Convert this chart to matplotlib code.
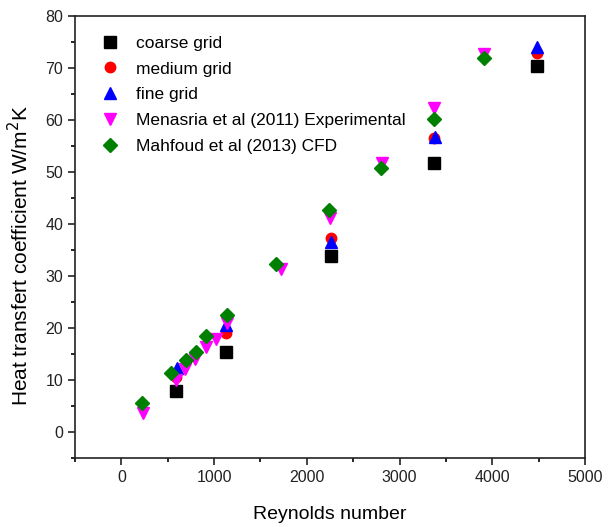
import matplotlib
matplotlib.use("Agg")
import matplotlib.pyplot as plt
from matplotlib.ticker import MultipleLocator

plt.rcParams['font.family'] = ['Liberation Sans', 'DejaVu Sans']

# Data
coarse_re = [593, 1132, 2265, 3372, 4487]
coarse_h = [7.9, 15.4, 33.9, 51.8, 70.3]

medium_re = [593, 1132, 2265, 3376, 4487]
medium_h = [10.5, 19.0, 37.4, 56.5, 72.9]

fine_re = [601, 1125, 2265, 3380, 4487]
fine_h = [12.4, 20.6, 36.6, 56.8, 74.0]

menasria_re = [233, 586, 690, 791, 909, 1025, 1143, 1726, 2247, 2816, 3369, 3912]
menasria_h = [3.7, 10.0, 12.2, 14.0, 16.4, 17.8, 20.9, 31.3, 41.1, 51.8, 62.4, 72.7]

mahfoud_re = [226, 532, 701, 809, 917, 1143, 1672, 2236, 2805, 3376, 3909]
mahfoud_h = [5.6, 11.3, 13.8, 15.4, 18.5, 22.5, 32.4, 42.7, 50.7, 60.2, 71.9]

labels = ["coarse grid", "medium grid", "fine grid",
          "Menasria et al (2011) Experimental", "Mahfoud et al (2013) CFD"]

fig = plt.figure(figsize=(6.12, 5.27), dpi=100)
ax = fig.add_axes([75/612, 1-458/527, 510/612, 442/527])

ax.plot(coarse_re, coarse_h, ls='none', marker='s', ms=8.5, color='black', label=labels[0])
ax.plot(medium_re, medium_h, ls='none', marker='o', ms=7.5, color='red', label=labels[1])
ax.plot(fine_re, fine_h, ls='none', marker='^', ms=8.5, color='blue', label=labels[2])
ax.plot(menasria_re, menasria_h, ls='none', marker='v', ms=8.5, color='magenta', label=labels[3])
ax.plot(mahfoud_re, mahfoud_h, ls='none', marker='D', ms=7, color='green', label=labels[4])

ax.set_xlim(-500, 5000)
ax.set_ylim(-5, 80)
ax.xaxis.set_major_locator(MultipleLocator(1000))
ax.xaxis.set_minor_locator(MultipleLocator(500))
ax.yaxis.set_major_locator(MultipleLocator(10))
ax.yaxis.set_minor_locator(MultipleLocator(5))
ax.tick_params(which='major', direction='out', length=5, width=1.2, labelsize=11.5, colors='#222222')
ax.tick_params(which='minor', direction='out', length=3, width=1.2)
for s in ax.spines.values():
    s.set_linewidth(1.2)
    s.set_color('#222222')

ax.set_xlabel("Reynolds number", fontsize=14, labelpad=15)
ax.set_ylabel("Heat transfert coefficient W/m$^2$K", fontsize=15)
ax.yaxis.set_label_coords(-0.084, 0.457)

ax.legend(loc='upper left', bbox_to_anchor=(0.052, 0.956), frameon=False,
          numpoints=1, fontsize=12.5, handlelength=1.0, handletextpad=1.0,
          labelspacing=0.62, borderpad=0, borderaxespad=0)

fig.savefig("out.png", dpi=100)
